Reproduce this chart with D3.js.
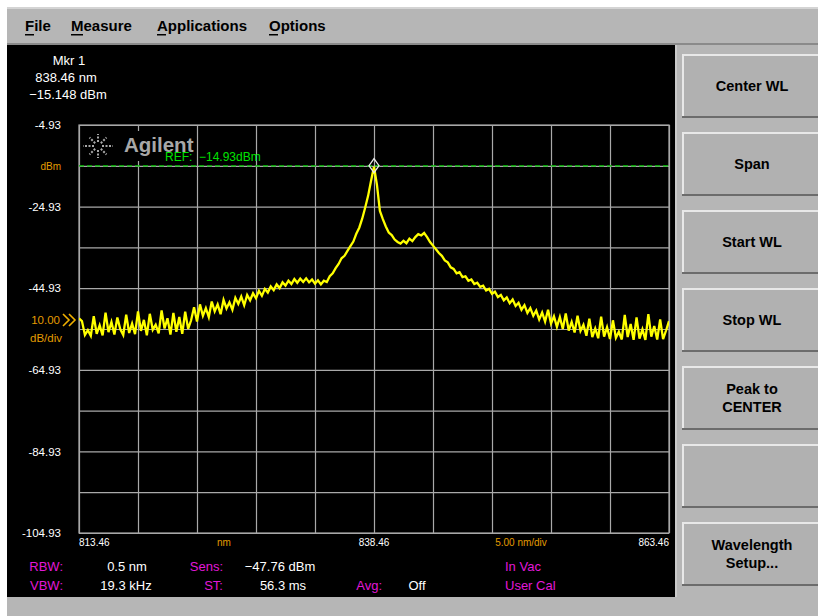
<!DOCTYPE html>
<html>
<head>
<meta charset="utf-8">
<script src="https://cdn.jsdelivr.net/npm/d3@7"></script>
<style>
  html, body { margin: 0; padding: 0; background: #ffffff; }
  svg { display: block; font-family: "Liberation Sans", Arial, sans-serif; }
</style>
</head>
<body>
<svg id="screen" width="818" height="616"></svg>
<script>
// sweep settings (nm) and the trace, one value per 0.25 nm
const startWl = 813.46;
const stopWl = 863.46;
const stepWl = 0.25;
const traceDbm = [
  -52.3, -53.0, -56.4, -55.2, -56.6, -51.8, -56.1, -54.0, -56.5, -50.9,
  -55.7, -53.2, -56.3, -52.1, -55.0, -56.4, -51.4, -55.9, -53.6, -56.2,
  -50.6, -55.4, -52.7, -56.5, -51.2, -55.1, -53.9, -56.0, -50.4, -54.8,
  -52.3, -56.3, -51.0, -55.6, -52.0, -56.1, -50.7, -54.9, -52.8, -49.6,
  -53.1, -48.9, -51.7, -49.8, -52.0, -48.2, -50.6, -48.9, -51.3, -47.8,
  -49.9, -48.4, -50.2, -47.3, -48.8, -47.0, -49.1, -46.6, -47.9, -46.2,
  -47.4, -45.6, -46.8, -45.1, -46.0, -44.5, -45.4, -44.0, -44.9, -43.5,
  -44.3, -43.1, -43.9, -42.7, -43.6, -42.6, -43.4, -42.5, -43.5, -42.8,
  -43.8, -43.0, -44.0, -43.1, -43.4, -42.0, -41.3, -40.0, -39.0, -37.6,
  -37.0, -35.8, -34.6, -33.5, -31.6, -30.1, -27.9, -25.2, -22.3, -18.6,
  -15.15, -19.6, -26.0, -28.0, -29.8, -31.3, -31.9, -33.0, -33.6, -34.0,
  -33.3, -33.9, -32.8, -33.4, -32.4, -31.7, -32.0, -31.4, -32.4, -33.6,
  -34.5, -35.4, -36.3, -37.0, -38.1, -38.6, -39.8, -40.2, -41.3, -41.0,
  -42.2, -42.0, -43.1, -42.8, -43.9, -43.6, -44.6, -44.3, -45.5, -45.1,
  -46.3, -45.8, -47.1, -46.6, -47.9, -47.2, -48.6, -47.7, -49.3, -48.5,
  -50.2, -49.1, -51.0, -49.8, -51.7, -50.4, -52.6, -50.9, -53.1, -50.2,
  -53.6, -51.8, -54.4, -52.0, -54.9, -51.1, -55.3, -53.2, -55.8, -51.7,
  -55.4, -53.9, -56.6, -52.4, -56.9, -54.8, -57.2, -51.9, -56.8, -54.5,
  -57.4, -52.8, -57.1, -55.6, -57.5, -51.5, -56.9, -53.7, -57.6, -52.1,
  -57.3, -55.0, -57.6, -51.3, -56.8, -54.2, -57.5, -52.6, -57.4, -55.3,
  -53.0
];

const topLevel = -4.93;
const bottomLevel = -104.93;
const refLevel = -14.93;
const yTickValues = [-4.93, -24.93, -44.93, -64.93, -84.93, -104.93];
const xTickValues = [813.46, 838.46, 863.46];
const markerWl = 838.46;
const markerDbm = -15.148;

const menuItems = ["File", "Measure", "Applications", "Options"];
const softKeys = [["Center WL"], ["Span"], ["Start WL"], ["Stop WL"], ["Peak to", "CENTER"], [], ["Wavelength", "Setup..."]];
const statusLabels = ["RBW:", "VBW:", "Sens:", "ST:", "Avg:"];
const statusValues = ["0.5 nm", "19.3 kHz", "\u221247.76 dBm", "56.3 ms", "Off"];
const statusFlags = ["In Vac", "User Cal"];

const svg = d3.select("#screen");
const wl = traceDbm.map((d, i) => startWl + i * stepWl);

const orange = "#e39b00";
const magenta = "#e218d8";
const gridColor = "#a9a9a9";

// window chrome
svg.append("rect").attr("width", 818).attr("height", 616).attr("fill", "#ffffff");
svg.append("rect").attr("x", 7).attr("y", 7).attr("width", 811).attr("height", 609).attr("fill", "#b6b6b6");
svg.append("rect").attr("x", 7).attr("y", 7).attr("width", 811).attr("height", 2).attr("fill", "#d4d4d4");
svg.append("rect").attr("x", 7).attr("y", 43).attr("width", 811).attr("height", 2).attr("fill", "#8a8a8a");

// menu bar
const menuX = [25, 71, 157, 269];
const menu = svg.append("g").attr("font-size", 15).attr("font-weight", "bold").attr("fill", "#000");
menuItems.forEach((m, i) => {
    menu.append("text").attr("x", menuX[i]).attr("y", 31).text(m);
    const first = m === "Measure" ? 12 : 9;
    menu.append("rect").attr("x", menuX[i]).attr("y", 34).attr("width", first).attr("height", 1.5).attr("fill", "#000");
});

// black display
svg.append("rect").attr("x", 7).attr("y", 45).attr("width", 668).attr("height", 552).attr("fill", "#000");
svg.append("rect").attr("x", 675).attr("y", 45).attr("width", 2).attr("height", 552).attr("fill", "#cacaca");

// soft keys
softKeys.forEach((lines, k) => {
    const by = 54 + k * 78;
    const g = svg.append("g");
    g.append("rect").attr("x", 682).attr("y", by).attr("width", 140).attr("height", 64).attr("fill", "#b1b1b1");
    g.append("rect").attr("x", 682).attr("y", by).attr("width", 140).attr("height", 2).attr("fill", "#e8e8e8");
    g.append("rect").attr("x", 682).attr("y", by).attr("width", 2).attr("height", 64).attr("fill", "#e8e8e8");
    g.append("rect").attr("x", 682).attr("y", by + 62).attr("width", 140).attr("height", 2).attr("fill", "#6c6c6c");
    const cy = by + 32;
    lines.forEach((s, j) => {
        g.append("text")
            .attr("x", 752)
            .attr("y", cy + 5 + (j - (lines.length - 1) / 2) * 18)
            .attr("text-anchor", "middle")
            .attr("font-size", 14.5)
            .attr("font-weight", "bold")
            .attr("fill", "#000")
            .text(s);
    });
});

// scales
const pL = 79, pR = 669, pT = 125, pB = 533;
const x = d3.scaleLinear().domain([startWl, stopWl]).range([pL, pR]);
const y = d3.scaleLinear().domain([bottomLevel, topLevel]).range([pB, pT]);

// grid
const xGrid = d3.axisBottom(x).tickValues(d3.range(startWl, stopWl + 0.01, 5)).tickSize(-(pB - pT)).tickFormat("");
const yGrid = d3.axisLeft(y).tickValues(d3.range(bottomLevel, topLevel + 0.01, 10)).tickSize(-(pR - pL)).tickFormat("");
svg.append("g").attr("transform", "translate(0," + pB + ")").call(xGrid)
    .call(g => g.select(".domain").remove())
    .selectAll("line").attr("stroke", gridColor).attr("stroke-width", 1.2);
svg.append("g").attr("transform", "translate(" + pL + ",0)").call(yGrid)
    .call(g => g.select(".domain").remove())
    .selectAll("line").attr("stroke", gridColor).attr("stroke-width", 1.2);
svg.append("rect").attr("x", pL).attr("y", pT).attr("width", pR - pL).attr("height", pB - pT)
    .attr("fill", "none").attr("stroke", gridColor).attr("stroke-width", 1.2);

// y axis labels
const yAxis = d3.axisLeft(y).tickValues(yTickValues).tickSize(0).tickPadding(18).tickFormat(d => d.toFixed(2));
svg.append("g").attr("transform", "translate(" + pL + ",0)").call(yAxis)
    .call(g => g.select(".domain").remove())
    .call(g => g.selectAll("text").attr("fill", "#fff").attr("font-size", 11.5)
        .attr("font-family", "'Liberation Sans', Arial, sans-serif"));

const side = svg.append("g").attr("fill", orange).attr("text-anchor", "end");
side.append("text").attr("x", 61).attr("y", y(refLevel) + 4).attr("font-size", 10).text("dBm");
side.append("text").attr("x", 60).attr("y", 324).attr("font-size", 11.5).text("10.00");
side.append("text").attr("x", 62).attr("y", 342).attr("font-size", 11.5).text("dB/div");
svg.append("path").attr("d", "M63,314 L69,320 L63,326 M69,314 L75,320 L69,326")
    .attr("fill", "none").attr("stroke", "#f0b000").attr("stroke-width", 1.6);

// x axis labels
const xLab = svg.append("g").attr("font-size", 10).attr("fill", "#fff");
xTickValues.forEach((v, i) => {
    xLab.append("text")
        .attr("x", x(v))
        .attr("y", 546)
        .attr("text-anchor", i === 0 ? "start" : (i === xTickValues.length - 1 ? "end" : "middle"))
        .text(v.toFixed(2));
});
xLab.append("text").attr("x", 224).attr("y", 546).attr("text-anchor", "middle").attr("fill", orange).text("nm");
xLab.append("text").attr("x", 521).attr("y", 546).attr("text-anchor", "middle").attr("fill", orange).text("5.00 nm/div");

// Agilent logo
svg.append("rect").attr("x", 81).attr("y", 131).attr("width", 114).attr("height", 30).attr("fill", "#000");
const logo = svg.append("g").attr("stroke", "#a8a8a8").attr("stroke-width", 2).attr("stroke-dasharray", "2,1.5");
d3.range(8).forEach(k => {
    const a = k * Math.PI / 4;
    const r1 = 4, r2 = (k % 4 === 0) ? 15 : 12;
    logo.append("line")
        .attr("x1", 98 + r1 * Math.cos(a)).attr("y1", 146 + r1 * Math.sin(a))
        .attr("x2", 98 + r2 * Math.cos(a)).attr("y2", 146 + r2 * Math.sin(a));
});
svg.append("text").attr("x", 124).attr("y", 152).attr("font-size", 20.5).attr("font-weight", "bold")
    .attr("fill", "#a8a8a8").text("Agilent");

// reference line
svg.append("line").attr("x1", pL).attr("x2", pR).attr("y1", y(refLevel)).attr("y2", y(refLevel))
    .attr("stroke", "#00c400").attr("stroke-width", 1.2).attr("stroke-dasharray", "5,3");
svg.append("text").attr("x", 165).attr("y", 161).attr("font-size", 12).attr("fill", "#00e400")
    .attr("xml:space", "preserve").text("REF:  \u221214.93dBm");

// trace
svg.append("clipPath").attr("id", "plotClip").append("rect")
    .attr("x", pL).attr("y", pT).attr("width", pR - pL).attr("height", pB - pT);
const line = d3.line().x((d, i) => x(wl[i])).y(d => y(d));
svg.append("path")
    .datum(traceDbm)
    .attr("clip-path", "url(#plotClip)")
    .attr("d", line)
    .attr("fill", "none")
    .attr("stroke", "#ffff00")
    .attr("stroke-width", 2.3)
    .attr("stroke-linejoin", "miter");

// marker diamond
const mx = x(markerWl), my = y(markerDbm) - 1;
svg.append("path")
    .attr("d", `M${mx},${my - 7} L${mx + 5},${my} L${mx},${my + 7} L${mx - 5},${my} Z`)
    .attr("fill", "none").attr("stroke", "#e8e8e8").attr("stroke-width", 1.3);

// marker readout
const mkr = svg.append("g").attr("font-size", 13).attr("fill", "#fff").attr("text-anchor", "middle");
mkr.append("text").attr("x", 69).attr("y", 65).text("Mkr 1");
mkr.append("text").attr("x", 66).attr("y", 82).text(markerWl.toFixed(2) + " nm");
mkr.append("text").attr("x", 68).attr("y", 99).text("\u2212" + Math.abs(markerDbm).toFixed(3) + " dBm");

// status lines
const st = svg.append("g").attr("font-size", 13);
const labelPos = [[63, 571], [63, 590], [223, 571], [223, 590], [382, 590]];
const valuePos = [[127, 571], [126, 590], [280, 571], [283, 590], [417, 590]];
statusLabels.forEach((s, i) => {
    st.append("text").attr("x", labelPos[i][0]).attr("y", labelPos[i][1]).attr("text-anchor", "end")
        .attr("fill", magenta).text(s);
    st.append("text").attr("x", valuePos[i][0]).attr("y", valuePos[i][1]).attr("text-anchor", "middle")
        .attr("fill", "#fff").text(statusValues[i]);
});
statusFlags.forEach((s, i) => {
    st.append("text").attr("x", 505).attr("y", 571 + i * 19).attr("fill", magenta).text(s);
});
</script>
</body>
</html>
